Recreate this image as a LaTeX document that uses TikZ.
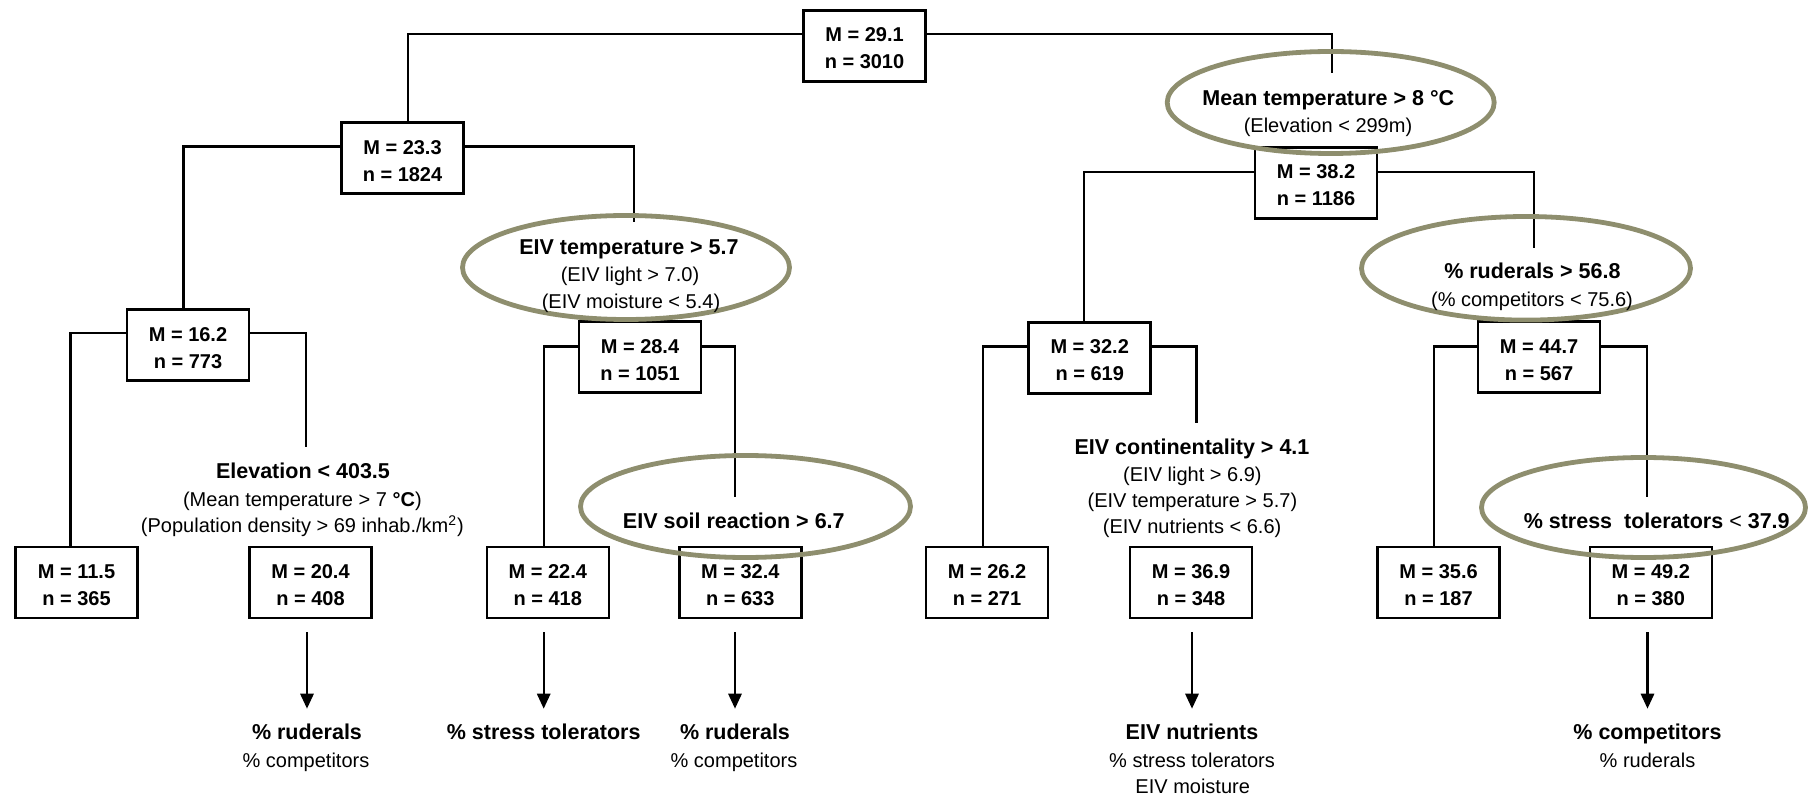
\documentclass[tikz,border=0pt]{standalone}
\usepackage{fontspec}
\setmainfont{Liberation Sans}
\usetikzlibrary{arrows.meta,shapes.geometric}
\definecolor{ellcol}{RGB}{142,142,110}
\begin{document}
\begin{tikzpicture}[x=0.5pt,y=-0.5pt,
  box/.style={draw, line width=1.3pt, minimum width=61pt, minimum height=35.5pt, inner sep=0pt,
    align=center, font=\bfseries\fontsize{10}{13.4}\selectfont, text height=22.8pt, text depth=0pt},
  ell/.style={draw=ellcol, line width=2.4pt, ellipse, inner sep=0pt},
  hd/.style={font=\bfseries\fontsize{10.75}{12}\selectfont, inner sep=0pt, text height=7.7pt, text depth=0pt},
  sb/.style={font=\fontsize{10}{12}\selectfont, inner sep=0pt, text height=7.2pt, text depth=0pt},
  conn/.style={line width=1.2pt},
  arr/.style={line width=1.2pt, -{Triangle[length=7.5pt,width=6.6pt]}}]
\useasboundingbox (0,0) rectangle (1810,796);

% boxes
\node[box] (root) at (864.5,46) {M = 29.1\\n = 3010};
\node[box] (b233) at (402.5,158.3) {M = 23.3\\n = 1824};
\node[box] (b382) at (1316,183) {M = 38.2\\n = 1186};
\node[box] (b162) at (188,345.3) {M = 16.2\\n = 773};
\node[box] (b284) at (640,357.3) {M = 28.4\\n = 1051};
\node[box] (b322) at (1089.7,358) {M = 32.2\\n = 619};
\node[box] (b447) at (1539,357.3) {M = 44.7\\n = 567};
\node[box] (b115) at (76.5,582.5) {M = 11.5\\n = 365};
\node[box] (b204) at (310.5,582.5) {M = 20.4\\n = 408};
\node[box] (b224) at (547.8,582.5) {M = 22.4\\n = 418};
\node[box] (b324) at (740.3,582.5) {M = 32.4\\n = 633};
\node[box] (b262) at (987,582.5) {M = 26.2\\n = 271};
\node[box] (b369) at (1191,582.5) {M = 36.9\\n = 348};
\node[box] (b356) at (1438.5,582.5) {M = 35.6\\n = 187};
\node[box] (b492) at (1650.8,582.5) {M = 49.2\\n = 380};

% free ends of connectors (inside ellipses / above texts)
\coordinate (c1) at (1332,73);
\coordinate (c2) at (633.7,221.7);
\coordinate (c3) at (1534,248);
\coordinate (c4) at (306,446.7);
\coordinate (c5) at (734.7,496.7);
\coordinate (c6) at (1196.5,422.7);
\coordinate (c7) at (1646.7,496.7);

% connectors
\draw[conn] ([yshift=6pt]root.west) -| ([xshift=2.75pt]b233.north);
\draw[conn] ([yshift=6pt]root.east) -| (c1);
\draw[conn] ([yshift=5.8pt]b233.west) -| ([xshift=-2.25pt]b162.north);
\draw[conn] ([yshift=5.8pt]b233.east) -| (c2);
\draw[conn] ([yshift=5.35pt]b382.west) -| ([xshift=-2.85pt]b322.north);
\draw[conn] ([yshift=5.35pt]b382.east) -| (c3);
\draw[conn] ([yshift=6.15pt]b162.west) -| ([xshift=-3.05pt]b115.north);
\draw[conn] ([yshift=6.15pt]b162.east) -| (c4);
\draw[conn] ([yshift=5.3pt]b284.west) -| ([xshift=-2.05pt]b224.north);
\draw[conn] ([yshift=5.3pt]b284.east) -| (c5);
\draw[conn] ([yshift=5.65pt]b322.west) -| ([xshift=-2pt]b262.north);
\draw[conn] ([yshift=5.65pt]b322.east) -| (c6);
\draw[conn] ([yshift=5.3pt]b447.west) -| ([xshift=-2.4pt]b356.north);
\draw[conn] ([yshift=5.3pt]b447.east) -| (c7);

% ellipses
\node[ell, minimum width=163.5pt, minimum height=51pt] (e1) at (1330.7,102.5) {};
\node[ell, minimum width=163.5pt, minimum height=52pt] (e2) at (626,267.5) {};
\node[ell, minimum width=164.5pt, minimum height=51.8pt] (e3) at (1526,268.3) {};
\node[ell, minimum width=165pt, minimum height=51pt] (e4) at (745.5,506.5) {};
\node[ell, minimum width=162pt, minimum height=50pt] (e5) at (1643.5,507.5) {};

% split texts
\node[hd] (t1a) at (1328.3,97.7) {Mean temperature > 8 °C};
\node[sb] (t1b) at (1328,125) {(Elevation < 299m)};
\node[hd] (t2a) at (629,247) {EIV temperature > 5.7};
\node[sb] (t2b) at (630,274) {(EIV light > 7.0)};
\node[sb] (t2c) at (631,301) {(EIV moisture < 5.4)};
\node[hd] (t3a) at (1532.4,271) {\% ruderals > 56.8};
\node[sb] (t3b) at (1532,299) {(\% competitors < 75.6)};
\node[hd] (t4a) at (733.8,521) {EIV soil reaction > 6.7};
\node[hd] (t5a) at (1656.7,521) {\% stress\ \ tolerators {\mdseries<} 37.9};
\node[hd] (t6a) at (303,471) {Elevation < 403.5};
\node[sb] (t6b) at (302.4,499) {(Mean temperature > 7 \textbf{°C})};
\node[sb] (t6c) at (302.4,525.7) {(Population density > 69 inhab./km\textsuperscript{2})};
\node[hd] (t7a) at (1192,446.7) {EIV continentality > 4.1};
\node[sb] (t7b) at (1192.4,474) {(EIV light > 6.9)};
\node[sb] (t7c) at (1192.4,500) {(EIV temperature > 5.7)};
\node[sb] (t7d) at (1192.1,526) {(EIV nutrients < 6.6)};

% bottom labels
\node[hd] (l1a) at (307,732) {\% ruderals};
\node[sb] (l1b) at (306,760) {\% competitors};
\node[hd] (l2a) at (543.7,732) {\% stress tolerators};
\node[hd] (l3a) at (735,732) {\% ruderals};
\node[sb] (l3b) at (734,760) {\% competitors};
\node[hd] (l4a) at (1192,732) {EIV nutrients};
\node[sb] (l4b) at (1192,760) {\% stress tolerators};
\node[sb] (l4c) at (1192.7,786) {EIV moisture};
\node[hd] (l5a) at (1647.5,732) {\% competitors};
\node[sb] (l5b) at (1647.5,760) {\% ruderals};

% arrows
\draw[arr, shorten <=6.5pt, shorten >=7.6pt] (l1a.north |- b204.south) -- (l1a.north);
\draw[arr, shorten <=6.5pt, shorten >=7.6pt] (l2a.north |- b224.south) -- (l2a.north);
\draw[arr, shorten <=6.5pt, shorten >=7.6pt] (l3a.north |- b324.south) -- (l3a.north);
\draw[arr, shorten <=6.5pt, shorten >=7.6pt] (l4a.north |- b369.south) -- (l4a.north);
\draw[arr, shorten <=6.5pt, shorten >=7.6pt] (l5a.north |- b492.south) -- (l5a.north);
\end{tikzpicture}
\end{document}
